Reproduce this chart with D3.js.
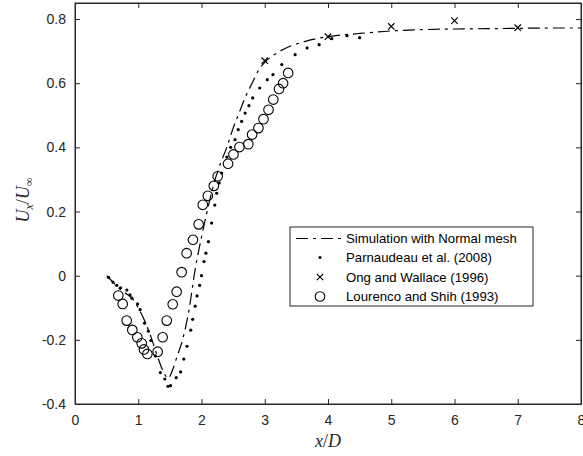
<!DOCTYPE html>
<html><head><meta charset="utf-8">
<script src="https://cdn.jsdelivr.net/npm/d3@7"></script>
<style>body{margin:0;background:#fff}svg{display:block}</style>
</head><body>
<svg id="c" width="583" height="456"></svg>
<script>
// Simulation with Normal mesh (dash-dot line)
const simX = [0.5,0.6,0.7,0.8,0.9,1.0,1.1,1.2,1.3,1.4,1.47,1.55,1.6,1.7,1.8,1.9,2.0,2.1,2.2,2.3,2.4,2.5,2.6,2.7,2.8,2.9,3.0,3.2,3.4,3.6,3.8,4.0,4.5,5.0,5.5,6.0,6.5,7.0,7.5,8.0];
const simY = [0.0,-0.02,-0.04,-0.055,-0.07,-0.10,-0.14,-0.19,-0.25,-0.30,-0.32,-0.29,-0.26,-0.2,-0.11,0.02,0.12,0.21,0.29,0.35,0.40,0.46,0.51,0.56,0.6,0.64,0.665,0.695,0.715,0.728,0.738,0.745,0.755,0.763,0.767,0.769,0.770,0.771,0.772,0.772];
// Parnaudeau et al. (2008)
const parX = [0.53,0.6,0.66,0.72,0.82,0.87,0.9,0.99,1.03,1.1,1.16,1.2,1.27,1.35,1.42,1.47,1.51,1.6,1.67,1.72,1.77,1.83,1.86,1.9,1.93,1.97,2.0,2.04,2.07,2.11,2.16,2.21,2.24,2.28,2.32,2.4,2.46,2.53,2.58,2.635,2.69,2.75,2.81,2.92,3.04,3.13,3.27,3.48,3.67,3.86,4.06,4.3,4.5];
const parY = [-0.005,-0.02,-0.03,-0.038,-0.045,-0.06,-0.07,-0.088,-0.106,-0.148,-0.173,-0.202,-0.25,-0.302,-0.322,-0.345,-0.343,-0.318,-0.3,-0.26,-0.22,-0.17,-0.136,-0.095,-0.063,-0.03,0.0,0.044,0.07,0.106,0.164,0.22,0.257,0.289,0.32,0.37,0.4,0.424,0.455,0.481,0.507,0.53,0.554,0.585,0.611,0.627,0.658,0.689,0.71,0.72,0.739,0.748,0.742];
// Ong and Wallace (1996)
const ongX = [3,4,5,6,7];
const ongY = [0.67,0.745,0.777,0.795,0.773];
// Lourenco and Shih (1993)
const louX = [0.685,0.754,0.817,0.906,0.985,1.054,1.09,1.144,1.307,1.386,1.45,1.545,1.607,1.686,1.765,1.865,1.955,2.02,2.1,2.195,2.256,2.42,2.505,2.6,2.74,2.8,2.9,2.98,3.06,3.135,3.225,3.29,3.37];
const louY = [-0.062,-0.088,-0.14,-0.169,-0.192,-0.211,-0.23,-0.244,-0.237,-0.192,-0.14,-0.089,-0.05,0.011,0.07,0.112,0.16,0.221,0.249,0.28,0.31,0.349,0.378,0.401,0.41,0.44,0.46,0.488,0.517,0.549,0.582,0.6,0.632];
const xTicks = [0,1,2,3,4,5,6,7,8];
const yTicks = [-0.4,-0.2,0,0.2,0.4,0.6,0.8];
const legendLabels = ["Simulation with Normal mesh","Parnaudeau et al. (2008)","Ong and Wallace (1996)","Lourenco and Shih (1993)"];

const svg = d3.select("#c");
const L = 75, R = 581, T = 3, B = 404;
const x = d3.scaleLinear().domain([0,8]).range([L,R]);
const y = d3.scaleLinear().domain([-0.4,0.85]).range([B,T]);
const ax = "#262626";
const tickFont = "Liberation Sans, Arial, sans-serif";

const g = svg.append("g");
g.append("rect").attr("x",L).attr("y",T).attr("width",R-L).attr("height",B-T)
  .attr("fill","#fff").attr("stroke",ax).attr("stroke-width",1);

// axes
const fmt = d => d===0 ? "0" : d.toFixed(1);
const xb = g.append("g").attr("transform",`translate(0,${B})`)
  .call(d3.axisBottom(x).tickValues(xTicks).tickSizeInner(-5).tickSizeOuter(0).tickPadding(11).tickFormat(d3.format("d")));
const xt = g.append("g").attr("transform",`translate(0,${T})`)
  .call(d3.axisTop(x).tickValues(xTicks).tickSizeInner(-5).tickSizeOuter(0).tickFormat(""));
const yl = g.append("g").attr("transform",`translate(${L},0)`)
  .call(d3.axisLeft(y).tickValues(yTicks).tickSizeInner(-5).tickSizeOuter(0).tickPadding(9).tickFormat(fmt));
const yr = g.append("g").attr("transform",`translate(${R},0)`)
  .call(d3.axisRight(y).tickValues(yTicks).tickSizeInner(-5).tickSizeOuter(0).tickFormat(""));
[xb,xt,yl,yr].forEach(a=>{
  a.select(".domain").attr("stroke",ax);
  a.selectAll(".tick line").attr("stroke",ax);
  a.selectAll(".tick text").attr("fill",ax).style("font-family",tickFont).style("font-size","14px");
});

// simulation line
const simData = simX.map((v,i)=>[v,simY[i]]);
g.append("path").datum(simData)
  .attr("d", d3.line().x(d=>x(d[0])).y(d=>y(d[1])).curve(d3.curveMonotoneX))
  .attr("fill","none").attr("stroke","#000").attr("stroke-width",1.2)
  .attr("stroke-dasharray","12,5,3,5");

// Parnaudeau dots
g.append("g").selectAll("circle").data(parX.map((v,i)=>[v,parY[i]])).join("circle")
  .attr("cx",d=>x(d[0])).attr("cy",d=>y(d[1])).attr("r",1.6).attr("fill","#000");

// Ong crosses
const cs = 3.2;
g.append("g").selectAll("path").data(ongX.map((v,i)=>[v,ongY[i]])).join("path")
  .attr("d",d=>{const cx=x(d[0]),cy=y(d[1]);return `M${cx-cs},${cy-cs}L${cx+cs},${cy+cs}M${cx-cs},${cy+cs}L${cx+cs},${cy-cs}`;})
  .attr("stroke","#000").attr("stroke-width",1.2).attr("fill","none");

// Lourenco circles
g.append("g").selectAll("circle").data(louX.map((v,i)=>[v,louY[i]])).join("circle")
  .attr("cx",d=>x(d[0])).attr("cy",d=>y(d[1])).attr("r",4.8)
  .attr("fill","none").attr("stroke","#000").attr("stroke-width",1.1);

// legend
const lg = g.append("g");
lg.append("rect").attr("x",290).attr("y",227).attr("width",243).attr("height",79)
  .attr("fill","#fff").attr("stroke",ax).attr("stroke-width",1);
const rowY = [238.5,257.5,277,296.5];
lg.append("line").attr("x1",296).attr("x2",343).attr("y1",rowY[0]).attr("y2",rowY[0])
  .attr("stroke","#000").attr("stroke-width",1.2).attr("stroke-dasharray","12,5,3,5");
lg.append("circle").attr("cx",320).attr("cy",rowY[1]).attr("r",1.6).attr("fill","#000");
lg.append("path").attr("d",`M${320-cs},${rowY[2]-cs}L${320+cs},${rowY[2]+cs}M${320-cs},${rowY[2]+cs}L${320+cs},${rowY[2]-cs}`)
  .attr("stroke","#000").attr("stroke-width",1.2);
lg.append("circle").attr("cx",320).attr("cy",rowY[3]).attr("r",4.8).attr("fill","none").attr("stroke","#000").attr("stroke-width",1.1);
lg.selectAll("text").data(legendLabels).join("text")
  .attr("x",346).attr("y",(d,i)=>rowY[i]).attr("dy","0.35em")
  .style("font-family",tickFont).style("font-size","13.2px").attr("fill","#000").text(d=>d);

// axis labels
const serif = "Liberation Serif, DejaVu Serif, serif";
const xl = svg.append("text").attr("x",(L+R)/2).attr("y",447).attr("text-anchor","middle")
  .style("font-family",serif).style("font-size","18px").style("font-style","italic").attr("fill",ax);
xl.append("tspan").text("x");
xl.append("tspan").style("font-style","normal").text("/");
xl.append("tspan").text("D");

const ylab = svg.append("text").attr("transform","translate(29,200) rotate(-90)").attr("text-anchor","middle")
  .style("font-family",serif).style("font-size","18px").style("font-style","italic").attr("fill",ax);
ylab.append("tspan").text("U");
ylab.append("tspan").attr("dy",4).style("font-size","12px").text("x");
ylab.append("tspan").attr("dy",-4).style("font-style","normal").text("/");
ylab.append("tspan").text("U");
ylab.append("tspan").attr("dy",4).style("font-size","12px").style("font-style","normal").text("∞");
</script>
</body></html>
